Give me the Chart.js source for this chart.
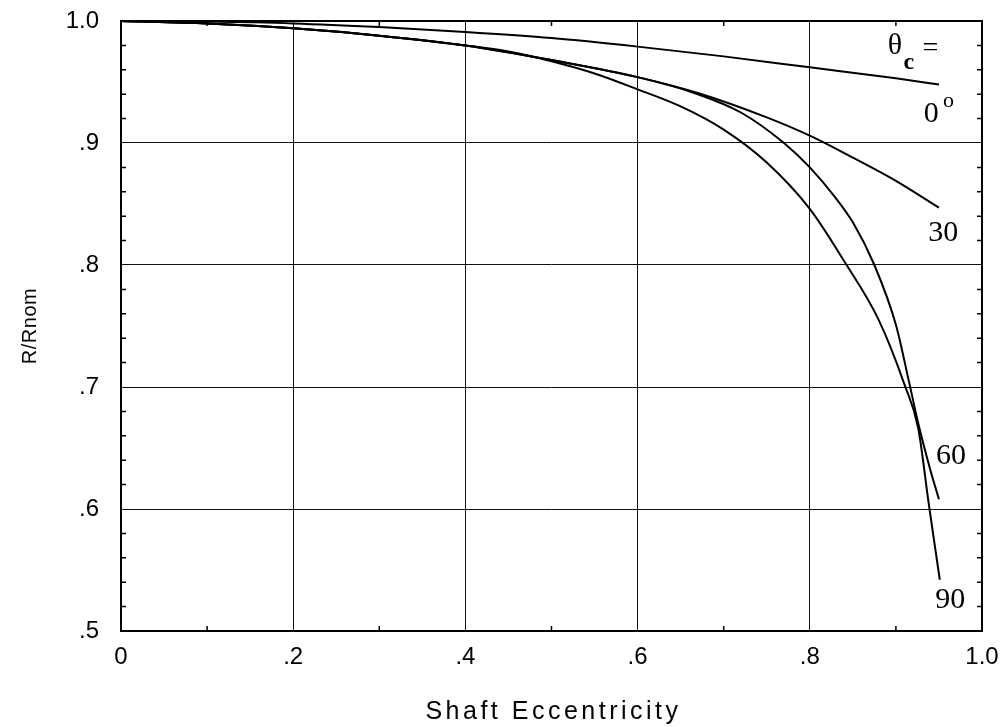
<!DOCTYPE html>
<html>
<head>
<meta charset="utf-8">
<script src="https://cdn.jsdelivr.net/npm/chart.js@4.4.1/dist/chart.umd.min.js"></script>
<style>
  html, body { margin: 0; padding: 0; background: #fff; }
  #wrap { width: 1004px; height: 727px; position: relative; }
</style>
</head>
<body>
<div id="wrap"><canvas id="c"></canvas></div>
<script>
// ---- Data ----
const xTickValues = [0, 0.2, 0.4, 0.6, 0.8, 1.0];
const xTickLabels = ['0', '.2', '.4', '.6', '.8', '1.0'];
const yTickValues = [0.5, 0.6, 0.7, 0.8, 0.9, 1.0];
const yTickLabels = ['.5', '.6', '.7', '.8', '.9', '1.0'];

const ecc0  = [0, 0.1, 0.2, 0.3, 0.4, 0.5, 0.6, 0.7, 0.8, 0.9, 0.95];
const r0    = [1.0, 0.9995, 0.998, 0.995, 0.991, 0.986, 0.979, 0.971, 0.962, 0.953, 0.948];

const ecc30 = [0, 0.1, 0.2, 0.3, 0.4, 0.5, 0.6, 0.67, 0.75, 0.8, 0.85, 0.9, 0.95];
const r30   = [1.0, 0.998, 0.994, 0.988, 0.980, 0.968, 0.954, 0.941, 0.921, 0.906, 0.888, 0.869, 0.847];

const ecc60 = [0, 0.1, 0.2, 0.3, 0.4, 0.5, 0.6, 0.67, 0.72, 0.77, 0.8, 0.83, 0.85, 0.875, 0.9, 0.915, 0.926, 0.94, 0.95];
const r60   = [1.0, 0.998, 0.994, 0.988, 0.980, 0.968, 0.954, 0.940, 0.925, 0.900, 0.880, 0.855, 0.835, 0.800, 0.751, 0.705, 0.670, 0.632, 0.608];

const ecc90 = [0, 0.1, 0.2, 0.3, 0.4, 0.45, 0.5, 0.55, 0.6, 0.65, 0.7, 0.75, 0.8, 0.84, 0.88, 0.91, 0.926, 0.938, 0.951];
const r90   = [1.0, 0.998, 0.994, 0.988, 0.980, 0.975, 0.967, 0.957, 0.944, 0.930, 0.911, 0.884, 0.846, 0.803, 0.755, 0.702, 0.666, 0.605, 0.542];

const curveLabels = ['0', '30', '60', '90'];

function pts(xs, ys) { return xs.map((x, i) => ({ x: x, y: ys[i] })); }

function ds(label, xs, ys) {
  return {
    label: label,
    data: pts(xs, ys),
    borderColor: '#000',
    borderWidth: 2,
    pointRadius: 0,
    fill: false,
    cubicInterpolationMode: 'monotone'
  };
}

const SANS = '"Liberation Sans", Arial, sans-serif';
const SERIF = '"Liberation Serif", "Times New Roman", serif';

const decorPlugin = {
  id: 'decor',
  afterDraw(chart) {
    const ctx = chart.ctx;
    const a = chart.chartArea;
    const xs = chart.scales.x, ys = chart.scales.y;
    ctx.save();
    // frame
    ctx.strokeStyle = '#000';
    ctx.lineWidth = 2;
    ctx.strokeRect(a.left, a.top, a.right - a.left, a.bottom - a.top);
    // minor inner ticks
    ctx.lineWidth = 1.5;
    ctx.beginPath();
    for (let i = 1; i < 10; i += 2) {
      const px = xs.getPixelForValue(i / 10);
      ctx.moveTo(px, a.bottom); ctx.lineTo(px, a.bottom - 5);
      ctx.moveTo(px, a.top); ctx.lineTo(px, a.top + 5);
    }
    for (let k = 25; k < 50; k++) {
      if (k % 5 === 0) continue;
      const py = ys.getPixelForValue(k / 50);
      ctx.moveTo(a.left, py); ctx.lineTo(a.left + 5, py);
      ctx.moveTo(a.right, py); ctx.lineTo(a.right - 5, py);
    }
    ctx.stroke();

    // curve annotations
    ctx.fillStyle = '#000';
    ctx.textAlign = 'center';
    ctx.textBaseline = 'middle';
    const P = (x, y) => [xs.getPixelForValue(x), ys.getPixelForValue(y)];
    let p;
    ctx.font = '30px ' + SERIF;
    p = P(0.899, 0.9795); ctx.fillText('\u03B8', p[0], p[1]);
    ctx.font = 'bold 24px ' + SERIF;
    p = P(0.915, 0.966); ctx.fillText('c', p[0], p[1]);
    ctx.font = '28px ' + SERIF;
    p = P(0.940, 0.977); ctx.fillText('=', p[0], p[1]);
    ctx.font = '30px ' + SERIF;
    p = P(0.941, 0.924); ctx.fillText(curveLabels[0], p[0], p[1]);
    ctx.font = '22px ' + SERIF;
    p = P(0.961, 0.934); ctx.fillText('o', p[0], p[1]);
    ctx.font = '30px ' + SERIF;
    p = P(0.955, 0.826); ctx.fillText(curveLabels[1], p[0], p[1]);
    p = P(0.964, 0.643); ctx.fillText(curveLabels[2], p[0], p[1]);
    p = P(0.963, 0.525); ctx.fillText(curveLabels[3], p[0], p[1]);

    // axis titles
    ctx.font = '25px ' + SANS;
    try { ctx.letterSpacing = '3.5px'; } catch (e) {}
    ctx.fillText('Shaft Eccentricity', (a.left + a.right) / 2 + 2, 712);
    try { ctx.letterSpacing = '0.5px'; } catch (e) {}
    ctx.font = '20px ' + SANS;
    ctx.translate(30, (a.top + a.bottom) / 2);
    ctx.rotate(-Math.PI / 2);
    ctx.fillText('R/Rnom', 0, 0);
    ctx.restore();
  }
};

new Chart(document.getElementById('c'), {
  type: 'line',
  data: {
    datasets: [
      ds('0', ecc0, r0),
      ds('30', ecc30, r30),
      ds('60', ecc60, r60),
      ds('90', ecc90, r90)
    ]
  },
  options: {
    responsive: true,
    maintainAspectRatio: false,
    animation: false,
    events: [],
    layout: { padding: { left: 0, right: 22, top: 21, bottom: 0 } },
    plugins: { legend: { display: false }, tooltip: { enabled: false } },
    scales: {
      x: {
        type: 'linear',
        min: 0, max: 1,
        afterFit(s) { s.height = 96; s.paddingLeft = 0; s.paddingRight = 0; },
        afterBuildTicks(s) { s.ticks = xTickValues.map(v => ({ value: v })); },
        ticks: {
          padding: 12,
          color: '#000',
          font: { family: SANS, size: 24 },
          callback: (v) => xTickLabels[xTickValues.findIndex(t => Math.abs(t - v) < 1e-6)]
        },
        grid: { color: '#111', lineWidth: 1, drawTicks: false },
        border: { display: false }
      },
      y: {
        type: 'linear',
        min: 0.5, max: 1.0,
        afterFit(s) { s.width = 121; s.paddingTop = 0; s.paddingBottom = 0; },
        afterBuildTicks(s) { s.ticks = yTickValues.map(v => ({ value: v })); },
        ticks: {
          padding: 22,
          color: '#000',
          font: { family: SANS, size: 24 },
          callback: (v) => yTickLabels[yTickValues.findIndex(t => Math.abs(t - v) < 1e-6)]
        },
        grid: { color: '#111', lineWidth: 1, drawTicks: false },
        border: { display: false }
      }
    }
  },
  plugins: [decorPlugin]
});
</script>
</body>
</html>
